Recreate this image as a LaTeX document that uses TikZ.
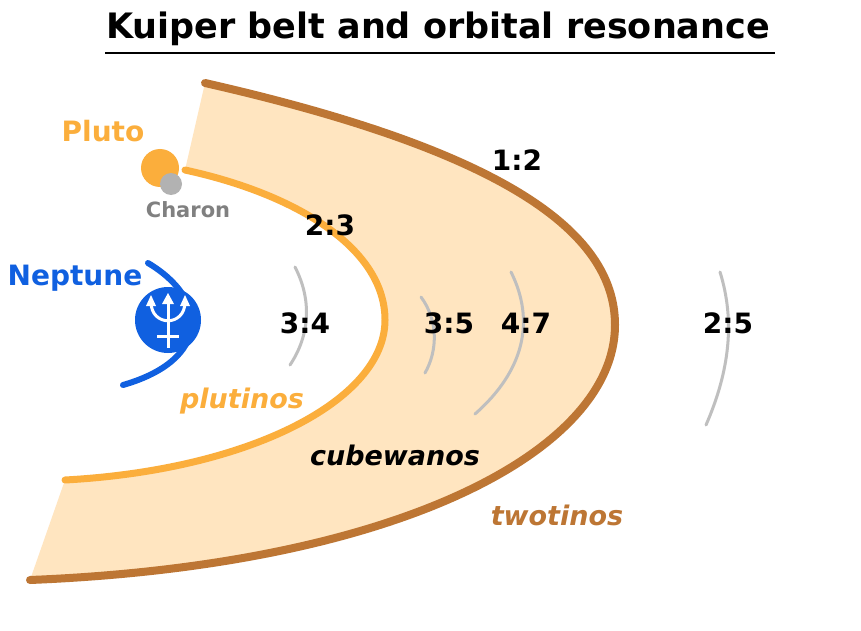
\documentclass[tikz,border=0pt]{standalone}
\usepackage{fontspec}
\setmainfont{DejaVu Sans}
\begin{document}
\begin{tikzpicture}[x=1pt,y=-1pt,
  lab/.style={font=\bfseries\fontsize{28}{30}\selectfont},
  ital/.style={font=\bfseries\itshape\fontsize{27}{29}\selectfont},
  res/.style={draw=gray!50,line width=3pt,line cap=round}]
\useasboundingbox (0,0) rectangle (861,631);
\fill[white] (0,0) rectangle (861,631);
\definecolor{belt}{HTML}{FFE5C0}
\definecolor{orng}{HTML}{FBAE3C}
\definecolor{brwn}{HTML}{BD7634}
\definecolor{nep}{HTML}{1060E0}
\node[font=\bfseries\fontsize{35}{38}\selectfont] (title) at (438,29) {Kuiper belt and orbital resonance};
\draw[line width=2.5pt] (105,53) coordinate (u1) -- (775,53) coordinate (u2);
% belt
\fill[belt] (205,83) .. controls (500,150) and (615,230) .. (615,325)
  .. controls (615,450) and (400,565) .. (30,580) -- (65,480)
  .. controls (250,470) and (385,400) .. (385,320)
  .. controls (385,250) and (300,195) .. (185,170) -- cycle;
\draw[brwn,line width=8pt,line cap=round] (205,83) .. controls (500,150) and (615,230) .. (615,325)
  .. controls (615,450) and (400,565) .. (30,580);
\draw[orng,line width=7pt,line cap=round] (185,170) .. controls (300,195) and (385,250) .. (385,320)
  .. controls (385,400) and (250,470) .. (65,480);
% resonance arcs
\draw[res] (295,267) .. controls (312,300) and (310,335) .. (290,365);
\draw[res] (421,297) .. controls (438,320) and (438,350) .. (425,373);
\draw[res] (511,272) .. controls (535,320) and (525,370) .. (475,414);
\draw[res] (720,272) .. controls (735,320) and (730,370) .. (706,425);
% Neptune
\draw[nep,line width=6pt,line cap=round] (148,263) .. controls (210,300) and (210,360) .. (123,385);
\fill[nep] (168,320) circle (33);
\begin{scope}[white,line width=3pt]
\draw (168,300) -- (168,348);
\draw (157,336) -- (179,336);
\draw (151,302) .. controls (151,327) and (185,327) .. (185,302);
\fill (168,293) -- (162,304) -- (174,304) -- cycle;
\fill (151,295) -- (146,306) -- (156,306) -- cycle;
\fill (185,295) -- (180,306) -- (190,306) -- cycle;
\end{scope}
\node[lab,nep] (neptune) at (75,278) {Neptune};
\node[lab,orng] (pluto) at (103,131) {Pluto};
% Pluto
\fill[orng] (160,168) circle (19);
\fill[gray!60] (171,184) circle (11);
\node[gray,font=\bfseries\fontsize{21}{23}\selectfont] (charon) at (188,210) {Charon};
% labels
\node[lab] (r12) at (517,160) {1:2};
\node[lab] (r23) at (330,225) {2:3};
\node[lab] (r34) at (305,323) {3:4};
\node[lab] (r35) at (449,323) {3:5};
\node[lab] (r47) at (526,323) {4:7};
\node[lab] (r25) at (728,323) {2:5};
\node[ital,orng] (plut) at (242,401) {plutinos};
\node[ital] (cube) at (395,455) {cubewanos};
\node[ital,brwn] (two) at (557,515) {twotinos};
\end{tikzpicture}
\end{document}
